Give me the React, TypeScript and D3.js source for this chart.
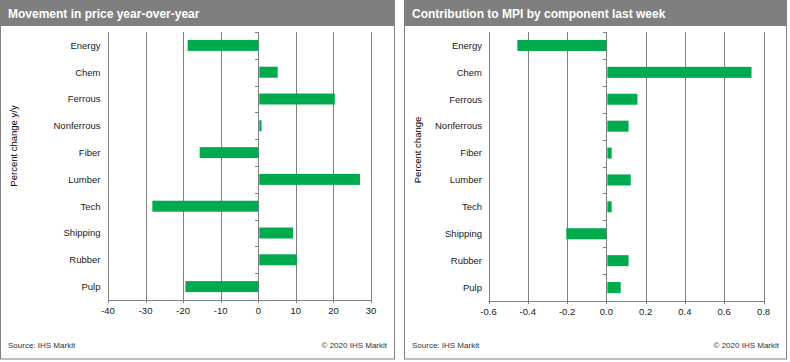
import React from "react";
import * as d3 from "d3";

const categories = ["Energy", "Chem", "Ferrous", "Nonferrous", "Fiber", "Lumber", "Tech", "Shipping", "Rubber", "Pulp"];
const yoyValues = [-18.8, 4.9, 20.1, 0.6, -15.6, 26.8, -28.2, 9.0, 10.0, -19.4];
const contribValues = [-0.453, 0.734, 0.153, 0.108, 0.022, 0.119, 0.022, -0.204, 0.108, 0.068];
const yoyTicks = [-40, -30, -20, -10, 0, 10, 20, 30];
const contribTicks = [-0.6, -0.4, -0.2, 0.0, 0.2, 0.4, 0.6, 0.8];

const FONT = "'Liberation Sans', Arial, sans-serif";
const GREEN = "#00AB4E";
const GRID = "#7f7f7f";

type PanelProps = {
  x0: number;
  width: number;
  title: string;
  values: number[];
  ticks: number[];
  fmt: (v: number) => string;
  plotX: [number, number];
  plotY: [number, number];
  labelRight: number;
  yTitle: string;
  yTitlePos: [number, number];
};

function Panel(p: PanelProps) {
  const x = d3.scaleLinear().domain([p.ticks[0], p.ticks[p.ticks.length - 1]]).range(p.plotX);
  const y = d3.scaleBand<string>().domain(categories).range(p.plotY).paddingInner(0).paddingOuter(0);
  const bw = y.bandwidth();
  const barH = bw * 0.41;
  const zero = x(0);
  const boundaries = d3.range(categories.length + 1).map((i) => p.plotY[0] + i * bw);
  const bottom = p.plotY[1];
  return (
    <g>
      <rect x={p.x0 + 0.5} y={0.5} width={p.width - 1} height={358.5} fill="#fff" stroke={GRID} strokeWidth={1} />
      <rect x={p.x0} y={0} width={p.width} height={26} fill="#7f7f7f" />
      <text x={p.x0 + 8} y={17.5} fill="#fff" fontFamily={FONT} fontWeight="bold" fontSize={12}>
        {p.title}
      </text>
      {p.ticks.map((t) => (
        <line key={"g" + t} x1={Math.round(x(t)) + 0.5} x2={Math.round(x(t)) + 0.5} y1={p.plotY[0]} y2={bottom + 3} stroke={GRID} strokeWidth={1} />
      ))}
      <line x1={p.plotX[0]} x2={p.plotX[1] + 1} y1={Math.round(bottom) + 0.5} y2={Math.round(bottom) + 0.5} stroke={GRID} strokeWidth={1} />
      {boundaries.map((b, i) => (
        <line key={"b" + i} x1={Math.round(zero) - 3} x2={Math.round(zero) + 0.5} y1={Math.round(b) + 0.5} y2={Math.round(b) + 0.5} stroke={GRID} strokeWidth={1} />
      ))}
      {p.values.map((v, i) => {
        const c = categories[i];
        const yc = (y(c) as number) + bw / 2;
        const x1 = Math.min(x(v), zero);
        const x2 = Math.max(x(v), zero);
        return <rect key={c} x={v >= 0 ? x1 + 1 : x1} y={yc - barH / 2} width={Math.max(0, x2 - x1)} height={barH} fill={GREEN} />;
      })}
      {categories.map((c) => (
        <text key={"l" + c} x={p.labelRight} y={(y(c) as number) + bw / 2 + 3.3} textAnchor="end" fontFamily={FONT} fontSize={9.5} fill="#1a1a1a">
          {c}
        </text>
      ))}
      {p.ticks.map((t) => (
        <text key={"t" + t} x={x(t)} y={bottom + 14} textAnchor="middle" fontFamily={FONT} fontSize={9.5} fill="#1a1a1a">
          {p.fmt(t)}
        </text>
      ))}
      <text
        transform={`translate(${p.yTitlePos[0]},${p.yTitlePos[1]}) rotate(-90)`}
        textAnchor="middle"
        fontFamily={FONT}
        fontSize={9.5}
        fill="#000"
      >
        {p.yTitle}
      </text>
      <text x={p.x0 + 8} y={348} fontFamily={FONT} fontSize={8} fill="#333">
        Source:  IHS Markit
      </text>
      <text x={p.x0 + p.width - 8} y={348} textAnchor="end" fontFamily={FONT} fontSize={8} fill="#333">
        © 2020  IHS Markit
      </text>
    </g>
  );
}

export default function App() {
  return (
    <svg width={790} height={362} style={{ position: "absolute", left: 0, top: 0 }}>
      <rect width={790} height={362} fill="#fff" />
      <Panel
        x0={0}
        width={395}
        title="Movement in price year-over-year"
        values={yoyValues}
        ticks={yoyTicks}
        fmt={(v) => d3.format("d")(v).replace("−", "-")}
        plotX={[108, 371]}
        plotY={[32, 300]}
        labelRight={100.5}
        yTitle="Percent change y/y"
        yTitlePos={[17, 146]}
      />
      <Panel
        x0={404}
        width={383}
        title="Contribution to MPI by component last week"
        values={contribValues}
        ticks={contribTicks}
        fmt={(v) => d3.format(".1f")(v).replace("−", "-")}
        plotX={[488.5, 763.5]}
        plotY={[32, 301]}
        labelRight={482}
        yTitle="Percent change"
        yTitlePos={[421, 150]}
      />
    </svg>
  );
}
